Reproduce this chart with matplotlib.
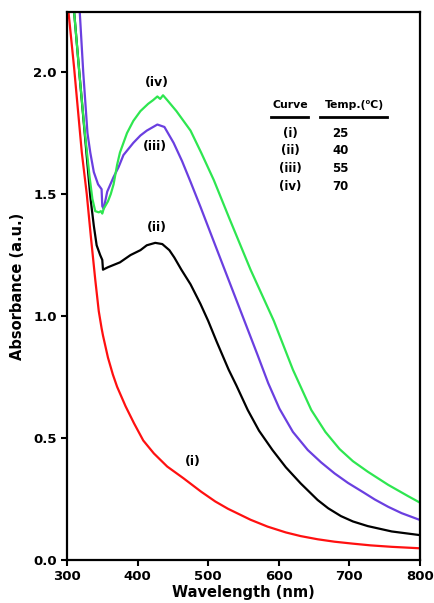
import matplotlib.pyplot as plt
from matplotlib.lines import Line2D

plt.rcParams['font.family'] = 'DejaVu Sans'
plt.rcParams['font.weight'] = 'bold'

# Absorbance spectra at four temperatures (wavelength in nm)
wl_i = [302, 310, 321, 328, 334, 340, 345, 349, 351, 358, 365, 371, 383, 395,
        408, 423, 442, 465, 490, 510, 528, 560, 584, 610, 631, 655, 679,
        705, 730, 760, 800]
abs_i = [2.25, 2.02, 1.67, 1.50, 1.32, 1.15, 1.02, 0.95, 0.92, 0.83, 0.76, 0.71,
         0.63, 0.56, 0.49, 0.437, 0.383, 0.335, 0.28, 0.24, 0.21, 0.165,
         0.137, 0.113, 0.098, 0.085, 0.075, 0.067, 0.06, 0.054, 0.048]

wl_ii = [310, 318, 326, 333, 338, 342, 347, 350, 351, 358, 375, 390, 404, 413,
         425, 435, 445, 452, 462, 475, 489, 500, 512, 529, 540, 556, 572, 591,
         610, 631, 655, 670, 688, 705, 726, 760, 800]
abs_ii = [2.25, 1.98, 1.72, 1.49, 1.37, 1.29, 1.25, 1.23, 1.19, 1.20, 1.22, 1.25,
          1.27, 1.29, 1.30, 1.295, 1.27, 1.24, 1.19, 1.13, 1.05, 0.98, 0.895,
          0.78, 0.715, 0.615, 0.53, 0.451, 0.38, 0.314, 0.246, 0.212, 0.180,
          0.158, 0.139, 0.117, 0.102]

wl_iii = [318, 323, 329, 333, 338, 344, 349, 350, 352, 357, 366, 373, 380, 394,
          404, 413, 428, 438, 451, 463, 475, 489, 510, 530, 550, 570, 585, 601,
          620, 641, 660, 679, 698, 720, 736, 755, 774, 800]
abs_iii = [2.25, 2.00, 1.75, 1.67, 1.59, 1.54, 1.52, 1.45, 1.44, 1.51, 1.57, 1.61,
           1.66, 1.71, 1.74, 1.76, 1.785, 1.775, 1.71, 1.635, 1.55, 1.448, 1.29,
           1.14, 0.99, 0.84, 0.725, 0.62, 0.525, 0.451, 0.40, 0.355, 0.316,
           0.277, 0.248, 0.218, 0.192, 0.164]

wl_iv = [310, 318, 325, 332, 336, 340, 345, 348, 350, 352, 358, 362, 366, 371,
         375, 385, 394, 404, 415, 422, 428, 432, 436, 442, 455, 475, 490, 508,
         530, 560, 593, 620, 646, 666, 686, 705, 726, 755, 783, 800]
abs_iv = [2.25, 1.98, 1.76, 1.57, 1.48, 1.43, 1.425, 1.43, 1.42, 1.44, 1.47, 1.50,
          1.54, 1.62, 1.67, 1.75, 1.80, 1.84, 1.87, 1.885, 1.90, 1.89, 1.905,
          1.885, 1.84, 1.76, 1.67, 1.557, 1.40, 1.19, 0.98, 0.78, 0.615, 0.525,
          0.455, 0.405, 0.362, 0.308, 0.262, 0.235]

curve_names = ['(i)', '(ii)', '(iii)', '(iv)']
temps = ['25', '40', '55', '70']

fig = plt.figure(figsize=(4.35, 6.03), dpi=100)
ax = fig.add_axes([0.154, 0.0713, 0.8115, 0.9087])

ax.plot(wl_i, abs_i, color='#ff1010', lw=1.6)
ax.plot(wl_ii, abs_ii, color='black', lw=1.6)
ax.plot(wl_iii, abs_iii, color='#6a3fe0', lw=1.6)
ax.plot(wl_iv, abs_iv, color='#2ee650', lw=1.6)

ax.set_xlim(300, 800)
ax.set_ylim(0, 2.246)
ax.set_xticks([300, 400, 500, 600, 700, 800])
ax.set_yticks([0.0, 0.5, 1.0, 1.5, 2.0])
ax.set_yticklabels(['0.0', '0.5', '1.0', '1.5', '2.0'])
ax.tick_params(direction='out', length=4, width=1.5, labelsize=9.5,
               top=False, right=False)
for s in ax.spines.values():
    s.set_linewidth(1.6)

ax.set_xlabel('Wavelength (nm)', fontsize=10.5, fontweight='bold', labelpad=1)
ax.set_ylabel('Absorbance (a.u.)', fontsize=10.5, fontweight='bold', labelpad=6)

# curve labels
ax.text(428, 1.959, '(iv)', ha='center', va='center', fontsize=9)
ax.text(425, 1.693, '(iii)', ha='center', va='center', fontsize=9)
ax.text(428, 1.361, '(ii)', ha='center', va='center', fontsize=9)
ax.text(478, 0.402, '(i)', ha='center', va='center', fontsize=9)

# temperature table
ax.text(0.632, 0.830, 'Curve', transform=ax.transAxes, ha='center', va='center',
        fontsize=7.8)
ax.text(0.813, 0.830, 'Temp.(\u2070C)', transform=ax.transAxes, ha='center',
        va='center', fontsize=7.8)
ax.add_line(Line2D([0.578, 0.683], [0.808, 0.808], transform=ax.transAxes,
                   color='black', lw=2))
ax.add_line(Line2D([0.717, 0.907], [0.808, 0.808], transform=ax.transAxes,
                   color='black', lw=2))
rows_y = [0.779, 0.748, 0.715, 0.682]
for name, t, yy in zip(curve_names, temps, rows_y):
    ax.text(0.632, yy, name, transform=ax.transAxes, ha='center', va='center',
            fontsize=8.5)
    ax.text(0.752, yy, t, transform=ax.transAxes, ha='left', va='center',
            fontsize=8.5)

fig.savefig('out.png', dpi=100)
